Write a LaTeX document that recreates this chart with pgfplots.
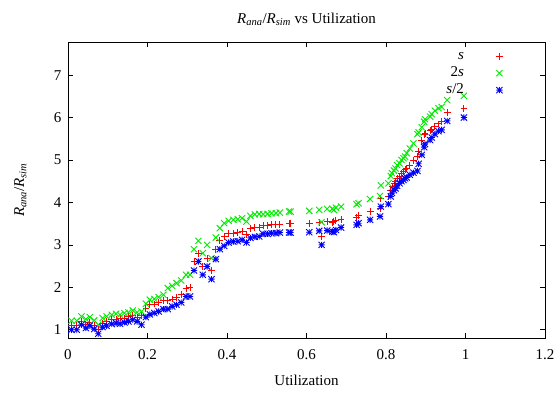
\documentclass[border=0pt]{standalone}
\usepackage{fontspec}
\setmainfont{Liberation Serif}
\usepackage{pgfplots}
\usepackage{pgfplotstable}
\pgfplotsset{compat=1.18}

\definecolor{gpred}{RGB}{255,0,0}
\definecolor{gpgreen}{RGB}{0,235,0}
\definecolor{gpblue}{RGB}{0,0,255}

\pgfdeclareplotmark{gpplus}{%
  \pgfpathmoveto{\pgfqpoint{-\pgfplotmarksize}{0pt}}\pgfpathlineto{\pgfqpoint{\pgfplotmarksize}{0pt}}%
  \pgfpathmoveto{\pgfqpoint{0pt}{-\pgfplotmarksize}}\pgfpathlineto{\pgfqpoint{0pt}{\pgfplotmarksize}}%
  \pgfusepathqstroke}
\pgfdeclareplotmark{gpcross}{%
  \pgfpathmoveto{\pgfqpoint{-\pgfplotmarksize}{-\pgfplotmarksize}}\pgfpathlineto{\pgfqpoint{\pgfplotmarksize}{\pgfplotmarksize}}%
  \pgfpathmoveto{\pgfqpoint{-\pgfplotmarksize}{\pgfplotmarksize}}\pgfpathlineto{\pgfqpoint{\pgfplotmarksize}{-\pgfplotmarksize}}%
  \pgfusepathqstroke}
\pgfdeclareplotmark{gpstar}{%
  \pgfpathmoveto{\pgfqpoint{-\pgfplotmarksize}{0pt}}\pgfpathlineto{\pgfqpoint{\pgfplotmarksize}{0pt}}%
  \pgfpathmoveto{\pgfqpoint{0pt}{-\pgfplotmarksize}}\pgfpathlineto{\pgfqpoint{0pt}{\pgfplotmarksize}}%
  \pgfpathmoveto{\pgfqpoint{-\pgfplotmarksize}{-\pgfplotmarksize}}\pgfpathlineto{\pgfqpoint{\pgfplotmarksize}{\pgfplotmarksize}}%
  \pgfpathmoveto{\pgfqpoint{-\pgfplotmarksize}{\pgfplotmarksize}}\pgfpathlineto{\pgfqpoint{\pgfplotmarksize}{-\pgfplotmarksize}}%
  \pgfusepathqstroke}

\pgfplotstableread{
u      r      g      b
0.009  1.094  1.212  1.000
0.022  1.094  1.212  1.000
0.034  1.196  1.314  1.118
0.045  1.118  1.251  1.039
0.055  1.173  1.298  1.094
0.066  1.094  1.220  1.016
0.076  1.000  1.118  0.906
0.087  1.157  1.275  1.063
0.097  1.196  1.314  1.094
0.110  1.235  1.353  1.133
0.121  1.251  1.376  1.157
0.131  1.275  1.353  1.141
0.142  1.275  1.392  1.173
0.152  1.314  1.408  1.196
0.163  1.329  1.455  1.235
0.174  1.298  1.408  1.196
0.185  1.329  1.431  1.118
0.196  1.502  1.612  1.298
0.206  1.588  1.706  1.361
0.217  1.604  1.722  1.392
0.228  1.643  1.769  1.431
0.240  1.690  1.824  1.486
0.251  1.690  1.980  1.486
0.262  1.722  2.035  1.549
0.273  1.761  2.098  1.588
0.285  1.824  2.161  1.643
0.297  1.980  2.294  1.784
0.307  1.996  2.294  1.784
0.317  2.608  2.898  2.396
0.328  2.804  3.094  2.608
0.339  2.490  2.804  2.294
0.350  2.686  3.000  2.490
0.361  2.396  2.686  2.192
0.372  2.882  3.173  2.663
0.382  3.094  3.392  2.898
0.393  3.196  3.510  2.976
0.404  3.259  3.565  3.055
0.416  3.275  3.588  3.078
0.427  3.298  3.604  3.086
0.438  3.314  3.627  3.118
0.449  3.251  3.549  3.055
0.459  3.376  3.682  3.165
0.470  3.408  3.718  3.188
0.481  3.416  3.725  3.196
0.491  3.447  3.722  3.259
0.502  3.455  3.729  3.259
0.512  3.471  3.745  3.275
0.523  3.471  3.745  3.275
0.533  3.486  3.761  3.290
0.556  3.494  3.784  3.290
0.560  3.494  3.784  3.290
0.607  3.510  3.800  3.298
0.632  3.533  3.824  3.329
0.638  3.196  3.533  3.000
0.652  3.549  3.847  3.337
0.665  3.533  3.850  3.314
0.669  3.550  3.820  3.300
0.674  3.573  3.878  3.350
0.687  3.604  3.902  3.408
0.726  3.651  3.957  3.471
0.731  3.690  3.980  3.510
0.760  3.78   4.08   3.59
0.785  3.86   4.15   3.67
0.787  4.10   4.40   3.90
0.806  4.14   4.45   3.96
0.812  4.28   4.62   4.14
0.815  4.37   4.69   4.22
0.820  4.45   4.75   4.29
0.824  4.49   4.80   4.33
0.828  4.57   4.88   4.39
0.834  4.62   4.92   4.45
0.839  4.68   5.00   4.50
0.844  4.73   5.04   4.53
0.848  4.77   5.08   4.57
0.852  4.80   5.16   4.59
0.860  4.88   5.27   4.65
0.869  4.99   5.39   4.70
0.879  5.09   5.61   4.74
0.882  5.20   5.65   4.91
0.890  5.45   5.77   5.12
0.896  5.60   5.90   5.30
0.898  5.63   5.96   5.38
0.911  5.70   6.02   5.47
0.915  5.72   6.08   5.53
0.923  5.80   6.16   5.61
0.932  5.85   6.22   5.68
0.940  5.90   6.25   5.71
0.954  6.11   6.41   5.92
0.996  6.22   6.51   6.00
}\datatable

\newcommand{\bigfont}{\fontsize{15}{18}\selectfont}

\begin{document}
\begin{tikzpicture}
\begin{axis}[
  scale only axis,
  width=477pt, height=296pt,
  xmin=0, xmax=1.2, ymin=0.805, ymax=7.78,
  xtick={0,0.2,0.4,0.6,0.8,1,1.2},
  ytick={1,2,3,4,5,6,7},
  tick align=inside,
  xtick pos=both, ytick pos=both,
  major tick length=5pt,
  tick style={black, line width=0.6pt},
  axis line style={black, line width=0.8pt},
  /pgf/number format/assume math mode=true,
  tick label style={font=\bigfont},
  xticklabel style={yshift=-8pt},
  yticklabel style={xshift=-3pt},
  label style={font=\bigfont},
  title style={font=\bigfont, yshift=7pt},
  title={\textit{R}\textsubscript{\textit{ana}}/\textit{R}\textsubscript{\textit{sim}} vs Utilization},
  xlabel={Utilization},
  ylabel={\textit{R}\textsubscript{\textit{ana}}/\textit{R}\textsubscript{\textit{sim}}},
  xlabel style={at={(axis description cs:0.5,-0.142)}, anchor=center},
  ylabel style={at={(axis description cs:-0.1,0.5)}, anchor=center},
  legend plot pos=right,
  legend cell align=right,
  legend image code/.code={%
    \path (0pt,0pt) (64pt,0pt);
    \draw[mark repeat=2,mark phase=2,#1] plot coordinates {(0pt,0pt) (34pt,0pt) (68pt,0pt)};},
  legend style={at={(axis description cs:0.975,0.985)}, anchor=north east,
    draw=none, fill=none, font=\bigfont, row sep=2pt,
    nodes={inner sep=1pt, text height=10pt, text depth=3pt}},
]
\addplot[only marks, color=gpred, mark=gpplus, mark size=3.4pt, line width=0.9pt] table[x=u, y=r] {\datatable};
\addlegendentry{\textit{s}}
\addplot[only marks, color=gpgreen, mark=gpcross, mark size=3.1pt, line width=0.9pt] table[x=u, y=g] {\datatable};
\addlegendentry{2\textit{s}}
\addplot[only marks, color=gpblue, mark=gpstar, mark size=3.1pt, line width=0.9pt] table[x=u, y=b] {\datatable};
\addlegendentry{\textit{s}/2}
\end{axis}
\pgfresetboundingbox
\path (current axis.south west) +(-68pt,-54pt) (current axis.north east) +(13pt,42pt);
\end{tikzpicture}
\end{document}
